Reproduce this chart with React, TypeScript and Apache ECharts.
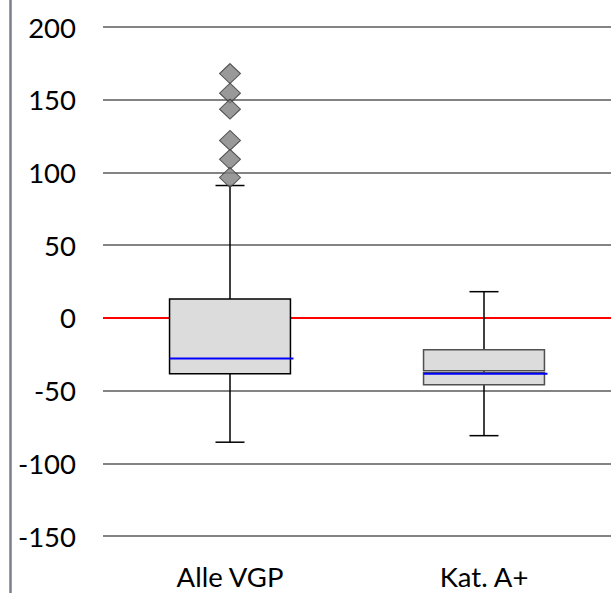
import React, { useEffect, useRef } from "react";
import * as echarts from "echarts";

const categories = ["Alle VGP", "Kat. A+"];
const mins = [-85.5, -81];
const q1s = [-38.5, -46];
const medians: (number | null)[] = [null, -37];
const q3s = [13, -22];
const maxs = [91, 18];
const means = [-28, -38.5];
const outliersAlle = [168, 154.5, 143.5, 122, 109, 96.5];
const yTicks = { min: -150, max: 200, interval: 50 };

const boxBorderColors = ["#000000", "#505050"];
const FONT = "Lato, 'Open Sans', sans-serif";

export default function App() {
  const ref = useRef<HTMLDivElement>(null);
  useEffect(() => {
    if (!ref.current) return;
    const chart = echarts.init(ref.current, null, { renderer: "svg" });
    const boxData = categories.map((c, i) => [
      i,
      mins[i],
      q1s[i],
      medians[i] == null ? NaN : medians[i],
      q3s[i],
      maxs[i],
      means[i],
    ]);
    chart.setOption({
      animation: false,
      backgroundColor: "#ffffff",
      grid: { left: 103, right: 0, top: 27, bottom: 57 },
      xAxis: {
        type: "category",
        data: categories,
        boundaryGap: true,
        axisLine: { show: false },
        axisTick: { show: false },
        splitLine: { show: false },
        axisLabel: { fontSize: 27.5, color: "#000", fontFamily: FONT, margin: 26 },
      },
      yAxis: {
        type: "value",
        min: yTicks.min,
        max: yTicks.max,
        interval: yTicks.interval,
        axisLine: { show: false },
        axisTick: { show: false },
        splitLine: { show: true, lineStyle: { color: "#5a5a5a", width: 1.5 } },
        axisLabel: { fontSize: 27.5, color: "#000", fontFamily: FONT, margin: 27 },
      },
      graphic: [
        {
          type: "line",
          shape: { x1: 10.5, y1: 0, x2: 10.5, y2: 593 },
          style: { stroke: "#7a8087", lineWidth: 2.5 },
          silent: true,
        },
      ],
      series: [
        {
          type: "custom",
          z: 10,
          data: boxData,
          encode: { x: 0, y: [1, 2, 3, 4, 5, 6] },
          renderItem: (params: any, api: any) => {
            const i = params.dataIndex;
            const x = api.value(0);
            const lo = api.coord([x, api.value(1)]);
            const q1 = api.coord([x, api.value(2)]);
            const medV = api.value(3);
            const q3 = api.coord([x, api.value(4)]);
            const hi = api.coord([x, api.value(5)]);
            const mean = api.coord([x, api.value(6)]);
            const bandW = api.size([1, 0])[0];
            const boxW = bandW * 0.476;
            const capW = 29;
            const cx = lo[0];
            const left = cx - boxW / 2;
            const border = boxBorderColors[i];
            const lineStyle = { stroke: "#000", lineWidth: 1.5 };
            const children: any[] = [
              { type: "line", shape: { x1: cx, y1: hi[1], x2: cx, y2: lo[1] }, style: lineStyle },
              { type: "line", shape: { x1: cx - capW / 2, y1: hi[1], x2: cx + capW / 2, y2: hi[1] }, style: lineStyle },
              { type: "line", shape: { x1: cx - capW / 2, y1: lo[1], x2: cx + capW / 2, y2: lo[1] }, style: lineStyle },
            ];
            const boxStyle = { fill: "#dcdcdc", stroke: border, lineWidth: 1.5 };
            if (isNaN(medV)) {
              children.push({
                type: "rect",
                shape: { x: left, y: q3[1], width: boxW, height: q1[1] - q3[1] },
                style: boxStyle,
              });
            } else {
              const med = api.coord([x, medV]);
              children.push({
                type: "rect",
                shape: { x: left, y: q3[1], width: boxW, height: med[1] - q3[1] - 1 },
                style: boxStyle,
              });
              children.push({
                type: "rect",
                shape: { x: left, y: med[1] + 1, width: boxW, height: q1[1] - med[1] - 1 },
                style: boxStyle,
              });
            }
            children.push({
              type: "line",
              shape: { x1: left, y1: mean[1], x2: left + boxW + 3, y2: mean[1] },
              style: { stroke: "#0000ff", lineWidth: 2 },
            });
            return { type: "group", children };
          },
        },
        {
          type: "scatter",
          z: 12,
          data: outliersAlle.map((v) => [0, v]),
          symbol: "diamond",
          symbolSize: [21, 20],
          itemStyle: { color: "#808080", borderColor: "#333333", borderWidth: 1 },
          markLine: {
            z: 1,
            silent: true,
            symbol: ["none", "none"],
            label: { show: false },
            lineStyle: { color: "#ff0000", width: 2, type: "solid" },
            data: [{ yAxis: 0 }],
          },
        },
      ],
    });
    return () => chart.dispose();
  }, []);
  return (
    <div
      ref={ref}
      style={{ position: "fixed", left: 0, top: 0, width: 611, height: 593 }}
    />
  );
}
